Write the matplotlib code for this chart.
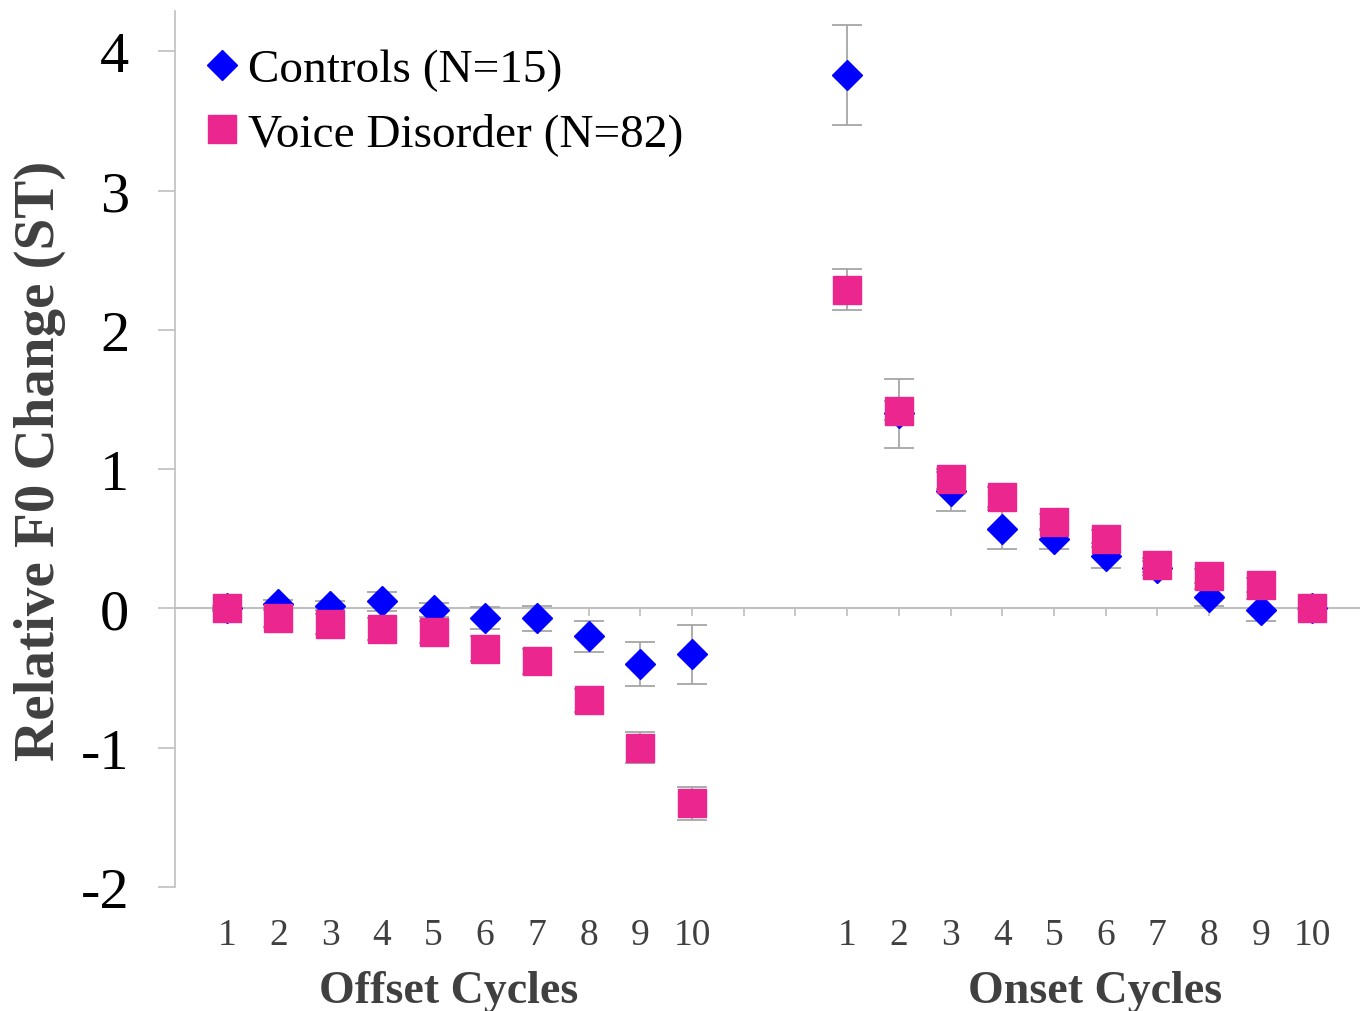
import numpy as np
import matplotlib
matplotlib.use("Agg")
import matplotlib.pyplot as plt
from matplotlib.lines import Line2D

plt.rcParams["font.family"] = ["Liberation Serif", "DejaVu Serif"]

# cycle labels
cycle_labels = ["1", "2", "3", "4", "5", "6", "7", "8", "9", "10"]

# offset cycles (mean, error)
offset_ctl = [0.00, 0.03, 0.02, 0.05, -0.01, -0.07, -0.07, -0.20, -0.40, -0.33]
offset_ctl_err = [0.02, 0.03, 0.03, 0.07, 0.05, 0.08, 0.09, 0.11, 0.16, 0.21]
offset_vd = [0.00, -0.07, -0.11, -0.15, -0.17, -0.29, -0.38, -0.66, -1.00, -1.40]
offset_vd_err = [0.00, 0.06, 0.07, 0.08, 0.08, 0.09, 0.09, 0.08, 0.11, 0.12]

# onset cycles (mean, error)
onset_ctl = [3.83, 1.40, 0.84, 0.57, 0.50, 0.38, 0.29, 0.08, -0.01, 0.00]
onset_ctl_err = [0.36, 0.25, 0.14, 0.14, 0.07, 0.09, 0.05, 0.06, 0.08, 0.00]
onset_vd = [2.29, 1.42, 0.93, 0.80, 0.62, 0.50, 0.31, 0.23, 0.17, 0.00]
onset_vd_err = [0.15, 0.07, 0.07, 0.07, 0.06, 0.06, 0.05, 0.05, 0.05, 0.00]

BLUE = "#0000FF"
PINK = "#EC268F"
GREY = "#a6a6a6"
TXT = "#404040"

offset_pos = np.arange(1, 11)
onset_pos = np.arange(13, 23)
x = np.concatenate([offset_pos, onset_pos])

ctl = offset_ctl + onset_ctl
ctl_err = offset_ctl_err + onset_ctl_err
vd = offset_vd + onset_vd
vd_err = offset_vd_err + onset_vd_err

fig = plt.figure(figsize=(13.6, 10.12), dpi=100)
ax = fig.add_axes([175 / 1360, 124 / 1012, 1185 / 1360, 876 / 1012])

ax.errorbar(x, ctl, yerr=ctl_err, fmt="D", color=BLUE, ms=14.8, mec=BLUE,
            ecolor=GREY, elinewidth=1.3, capsize=10.5, capthick=1.3, zorder=3)
ax.errorbar(x, vd, yerr=vd_err, fmt="s", color=PINK, ms=20, mec=PINK,
            ecolor=GREY, elinewidth=1.3, capsize=10.5, capthick=1.3, zorder=4)

ax.set_xlim(0, 22.92)
ax.set_ylim(-2, 4.29)

# zero line with category ticks
for s in ["top", "right"]:
    ax.spines[s].set_visible(False)
ax.spines["bottom"].set_position(("data", 0))
ax.spines["bottom"].set_color("#bfbfbf")
ax.spines["bottom"].set_linewidth(1.5)
ax.spines["left"].set_color("#bfbfbf")
ax.spines["left"].set_linewidth(1.2)
ax.set_xticks(np.arange(1, 23))
ax.tick_params(axis="x", direction="out", length=6, width=1.2, color="#bfbfbf",
               labelbottom=False)

ax.set_yticks([-2, -1, 0, 1, 2, 3, 4])
ax.set_yticklabels(["-2", "-1", "0", "1", "2", "3", "4"])
ax.tick_params(axis="y", direction="out", length=12, width=1.2, color="#bfbfbf",
               labelsize=42, pad=21, labelcolor="black")

# tick labels at the bottom
sec = ax.secondary_xaxis(0.0)
sec.set_xticks(x)
sec.set_xticklabels(cycle_labels + cycle_labels)
sec.tick_params(axis="x", length=0, pad=22, labelsize=27, labelcolor=TXT)
sec.spines["bottom"].set_visible(False)

ax.text(5.3, -2.745, "Offset Cycles", ha="center", va="center", fontsize=33,
        fontweight="bold", color=TXT)
ax.text(17.8, -2.745, "Onset Cycles", ha="center", va="center", fontsize=33,
        fontweight="bold", color=TXT)

fig.text(40 / 1360, 0.5445, "Relative F0 Change (ST)", rotation=90, ha="center",
         va="center", fontsize=41, fontweight="bold", color=TXT)

handles = [
    Line2D([], [], marker="D", color=BLUE, ls="none", ms=14.8),
    Line2D([], [], marker="s", color=PINK, ls="none", ms=20),
]
ax.legend(handles, ["Controls (N=15)", "Voice Disorder (N=82)"],
          loc="upper left", bbox_to_anchor=(205 / 1360, 1 - 49 / 1012),
          bbox_transform=fig.transFigure, frameon=False, fontsize=34,
          handlelength=0.72, handletextpad=0.2, labelspacing=0.45,
          borderpad=0, borderaxespad=0)

fig.savefig("out.png", dpi=100)
